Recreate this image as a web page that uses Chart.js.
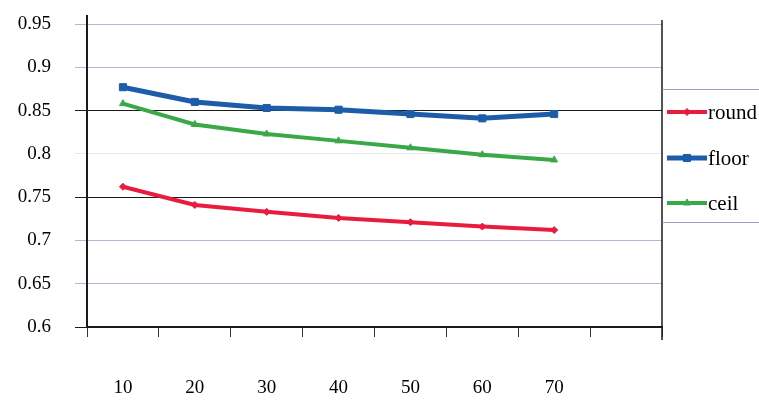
<!DOCTYPE html>
<html>
<head>
<meta charset="utf-8">
<script src="https://cdn.jsdelivr.net/npm/chart.js@4/dist/chart.umd.min.js"></script>
<style>
  html, body { margin: 0; padding: 0; background: #ffffff; }
  canvas { display: block; }
</style>
</head>
<body>
<canvas id="chart" width="759" height="401"></canvas>
<script>
// Category labels (the last slot is an empty bin, as on the axis)
const categories = ['10', '20', '30', '40', '50', '60', '70', ''];

// Series values
const roundValues = [0.762, 0.741, 0.733, 0.726, 0.721, 0.716, 0.712];
const floorValues = [0.877, 0.860, 0.853, 0.851, 0.846, 0.841, 0.846];
const ceilValues  = [0.858, 0.834, 0.823, 0.815, 0.807, 0.799, 0.793];

// Y axis range and tick spacing
const yMin = 0.6;
const yMax = 0.95;
const yStep = 0.05;

const SERIF = '"Liberation Serif", "DejaVu Serif", serif';

// Grid lines at 0.85 and 0.75 are solid black, the rest light blue-grey
function gridColor(ctx) {
  const v = ctx.tick ? Math.round(ctx.tick.value * 100) / 100 : null;
  if (v === 0.85 || v === 0.75 || v === 0.6) return '#1a1a1a';
  if (v === 0.8) return 'rgba(190,190,210,0.35)';
  return 'rgba(150,150,190,0.7)';
}

// Frame pieces: right border of the plot and the boxed legend beside it
const framePlugin = {
  id: 'frame',
  afterDraw(chart) {
    const { ctx, chartArea } = chart;
    const right = chartArea.right;
    ctx.save();
    // left axis extension above the top grid line
    ctx.strokeStyle = '#1a1a1a';
    ctx.lineWidth = 2;
    ctx.beginPath();
    ctx.moveTo(chartArea.left, chartArea.top - 9);
    ctx.lineTo(chartArea.left, chartArea.top);
    ctx.stroke();
    // right border
    ctx.lineWidth = 1.5;
    ctx.beginPath();
    ctx.moveTo(right, chartArea.top - 4);
    ctx.lineTo(right, chartArea.bottom + 13);
    ctx.stroke();

    // legend box top and bottom lines
    const boxTop = 89, boxBottom = 222;
    ctx.strokeStyle = 'rgba(140,140,185,0.85)';
    ctx.lineWidth = 1;
    ctx.beginPath();
    ctx.moveTo(right, boxTop + 0.5);
    ctx.lineTo(chart.width, boxTop + 0.5);
    ctx.moveTo(right, boxBottom + 0.5);
    ctx.lineTo(chart.width, boxBottom + 0.5);
    ctx.stroke();

    // legend entries
    const rows = [112, 158, 203];
    chart.data.datasets.forEach((ds, i) => {
      const y = rows[i];
      const x0 = right + 5, x1 = right + 45;
      ctx.strokeStyle = ds.borderColor;
      ctx.fillStyle = ds.borderColor;
      ctx.lineWidth = ds.borderWidth;
      ctx.beginPath();
      ctx.moveTo(x0, y);
      ctx.lineTo(x1, y);
      ctx.stroke();
      ctx.lineWidth = 1;
      Chart.helpers.drawPoint(ctx, {
        pointStyle: ds.pointStyle,
        radius: ds.pointRadius,
        borderWidth: 1
      }, (x0 + x1) / 2, y);
      ctx.fillStyle = '#000000';
      ctx.font = '21px ' + SERIF;
      ctx.textAlign = 'left';
      ctx.textBaseline = 'middle';
      ctx.fillText(ds.label, x1 + 1, y + 1);
    });
    ctx.restore();
  }
};

Chart.defaults.font.family = SERIF;

new Chart(document.getElementById('chart'), {
  type: 'line',
  data: {
    labels: categories,
    datasets: [
      {
        label: 'round',
        data: roundValues,
        borderColor: 'rgb(232,28,62)',
        backgroundColor: 'rgb(232,28,62)',
        borderWidth: 4,
        pointStyle: 'rectRot',
        pointRadius: 3.5,
        pointBorderWidth: 1,
        tension: 0
      },
      {
        label: 'floor',
        data: floorValues,
        borderColor: 'rgb(28,92,168)',
        backgroundColor: 'rgb(28,92,168)',
        borderWidth: 5,
        pointStyle: 'rect',
        pointRadius: 5,
        pointBorderWidth: 1,
        tension: 0
      },
      {
        label: 'ceil',
        data: ceilValues,
        borderColor: 'rgb(58,168,72)',
        backgroundColor: 'rgb(58,168,72)',
        borderWidth: 4,
        pointStyle: 'triangle',
        pointRadius: 4,
        pointBorderWidth: 1,
        tension: 0
      }
    ]
  },
  options: {
    responsive: false,
    animation: false,
    layout: { padding: { top: 24, right: 97, left: 0, bottom: 0 } },
    plugins: {
      legend: { display: false },
      tooltip: { enabled: false }
    },
    scales: {
      x: {
        type: 'category',
        offset: true,
        grid: {
          offset: true,
          drawOnChartArea: false,
          drawTicks: true,
          tickLength: 10,
          color: '#333333',
          lineWidth: 1
        },
        border: { display: true, color: '#1a1a1a', width: 2 },
        ticks: {
          padding: 40,
          color: '#000000',
          font: { size: 19, family: SERIF },
          maxRotation: 0,
          autoSkip: false
        },
        afterFit(scale) { scale.height = 74; }
      },
      y: {
        min: yMin,
        max: yMax,
        grid: {
          color: gridColor,
          lineWidth: 1,
          drawTicks: true,
          tickLength: 12
        },
        border: { display: true, color: '#1a1a1a', width: 2 },
        ticks: {
          stepSize: yStep,
          padding: 24,
          color: '#000000',
          font: { size: 19, family: SERIF },
          callback: v => String(Math.round(v * 100) / 100)
        },
        afterFit(scale) {
          scale.width = 87;
          scale.paddingTop = 0;
          scale.paddingBottom = 0;
        }
      }
    }
  },
  plugins: [framePlugin]
});
</script>
</body>
</html>
